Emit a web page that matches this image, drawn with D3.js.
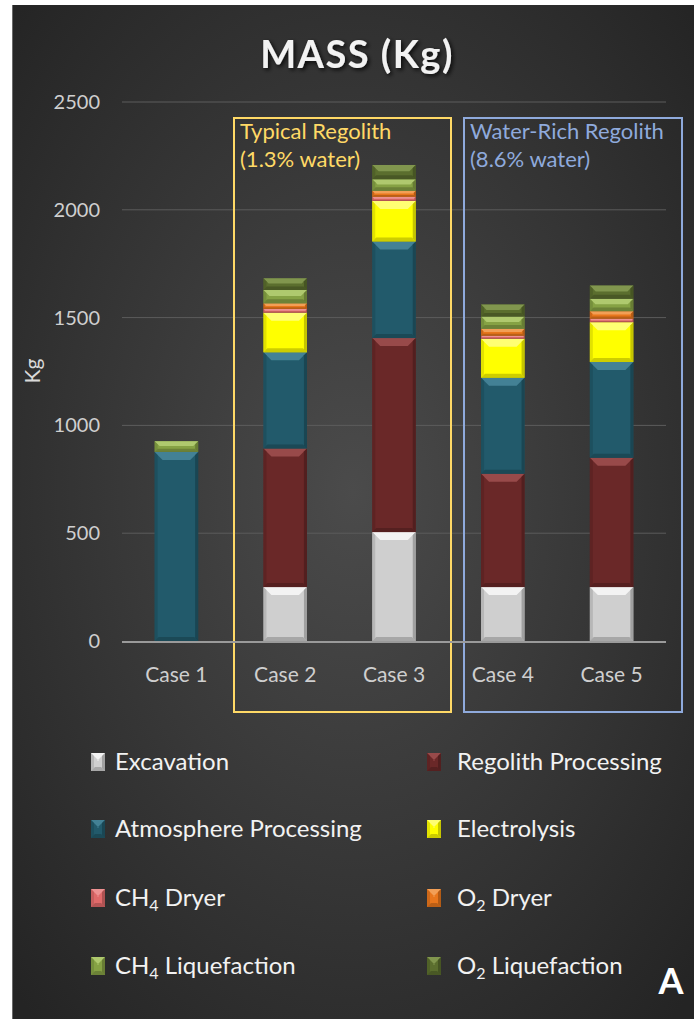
<!DOCTYPE html>
<html>
<head>
<meta charset="utf-8">
<script src="https://cdn.jsdelivr.net/npm/d3@7"></script>
<style>
  html, body { margin: 0; padding: 0; background: #ffffff; }
  svg { display: block; }
</style>
</head>
<body>
<svg id="chart" width="694" height="1019"></svg>
<script>
// ---- data (kg) ----
const cases = ["Case 1", "Case 2", "Case 3", "Case 4", "Case 5"];
const excavation   = [0, 250, 505, 250, 250];
const regolithProc = [0, 643, 900, 526, 600];
const atmosphereProc = [877, 446, 448, 445, 444];
const electrolysis = [0, 184, 188, 181, 185];
const ch4Dryer     = [0, 17, 19, 14, 16];
const o2Dryer      = [0, 26, 28, 32, 35];
const ch4Liq       = [50, 62, 54, 57, 58];
const o2Liq        = [0, 54, 66, 56, 61];
const yTicks = [0, 500, 1000, 1500, 2000, 2500];

const seriesNames = ["Excavation", "Regolith Processing", "Atmosphere Processing",
  "Electrolysis", "CH4 Dryer", "O2 Dryer", "CH4 Liquefaction", "O2 Liquefaction"];
const seriesValues = [excavation, regolithProc, atmosphereProc, electrolysis,
  ch4Dryer, o2Dryer, ch4Liq, o2Liq];
const seriesColors = ["#cfcfcf", "#6a2828", "#225a6b", "#ffff00",
  "#e06a6a", "#e8761c", "#86a244", "#5b6e2e"];
const highlightColors = ["#ffffff", "#a85656", "#4f8fa3", "#ffff9a",
  "#f2a0a0", "#f6ad6a", "#bcd57c", "#8ea45a"];

// ---- layout ----
const svg = d3.select("#chart");
const W = 694, H = 1019;
const font = "Lato, 'Open Sans', sans-serif";

const defs = svg.append("defs");
const bg = defs.append("radialGradient").attr("id", "bg")
  .attr("cx", "50%").attr("cy", "48%").attr("r", "70%");
bg.append("stop").attr("offset", "0%").attr("stop-color", "#4b4b4b");
bg.append("stop").attr("offset", "100%").attr("stop-color", "#242424");

const shadow = defs.append("filter").attr("id", "shadow")
  .attr("x", "-10%").attr("y", "-10%").attr("width", "130%").attr("height", "140%");
shadow.append("feDropShadow").attr("dx", 2).attr("dy", 2).attr("stdDeviation", 2)
  .attr("flood-color", "#000").attr("flood-opacity", 0.8);

svg.append("rect").attr("x", 12).attr("y", 5).attr("width", W - 12).attr("height", H - 5)
  .attr("fill", "url(#bg)");
svg.append("line").attr("x1", 12.5).attr("x2", 12.5).attr("y1", 5).attr("y2", H)
  .attr("stroke", "#6a6a6a").attr("stroke-width", 1);

const plotLeft = 122, plotRight = 666, plotTop = 102, plotBottom = 641;

const x = d3.scaleBand().domain(cases).range([plotLeft, plotRight])
  .paddingInner(0.6).paddingOuter(0.3);
const y = d3.scaleLinear().domain([0, 2500]).range([plotBottom, plotTop]);

// title
svg.append("text").attr("x", 357).attr("y", 68).attr("text-anchor", "middle")
  .attr("font-family", font).attr("font-weight", "bold").attr("font-size", 38)
  .attr("fill", "#f2f2f2").attr("filter", "url(#shadow)")
  .attr("letter-spacing", 1.5).text("MASS (Kg)");

// gridlines
svg.append("g").selectAll("line").data(yTicks.filter(d => d > 0)).join("line")
  .attr("x1", plotLeft).attr("x2", plotRight)
  .attr("y1", d => y(d)).attr("y2", d => y(d))
  .attr("stroke", "#5c5c5c").attr("stroke-width", 1);

// y axis labels
const yAxis = svg.append("g").attr("transform", `translate(${plotLeft - 22},0)`)
  .call(d3.axisLeft(y).tickValues(yTicks).tickFormat(d3.format("d")).tickSize(0).tickPadding(0));
yAxis.select(".domain").remove();
yAxis.selectAll("text").attr("font-family", font).attr("font-size", 20)
  .attr("fill", "#cfcfcf");

svg.append("text").attr("transform", "translate(40,371) rotate(-90)")
  .attr("text-anchor", "middle").attr("font-family", font).attr("font-size", 21)
  .attr("fill", "#d9d9d9").text("Kg");

// annotation boxes (regolith groups)
const bw = x.bandwidth();
const boxTop = 118, boxBottom = 712;
const boxes = [
  { left: 234, right: 451, color: "#ffd966", lines: ["Typical Regolith", "(1.3% water)"] },
  { left: 464, right: 682, color: "#8faadc", lines: ["Water-Rich Regolith", "(8.6% water)"] }
];
boxes.forEach(b => {
  svg.append("rect").attr("x", b.left).attr("y", boxTop)
    .attr("width", b.right - b.left).attr("height", boxBottom - boxTop)
    .attr("fill", "none").attr("stroke", b.color).attr("stroke-width", 2);
  b.lines.forEach((t, i) => {
    svg.append("text").attr("x", b.left + 6).attr("y", boxTop + 21 + i * 28)
      .attr("font-family", font).attr("font-size", 22).attr("fill", b.color).text(t);
  });
});

// bevelled block used for bar segments and legend keys
function bevel(g, bx, by, w, h, color, hi) {
  if (h <= 0) return;
  const dark = d3.color(color).darker(0.6).formatHex();
  const darker = d3.color(color).darker(1.1).formatHex();
  const grp = g.append("g");
  grp.append("rect").attr("x", bx).attr("y", by).attr("width", w).attr("height", h)
    .attr("fill", color);
  const bt = Math.min(8, h * 0.45);
  const bs = Math.min(3, h * 0.3);
  const bb = Math.min(4, h * 0.3);
  // top highlight
  grp.append("polygon")
    .attr("points", [[bx, by], [bx + w, by], [bx + w - bt, by + bt], [bx + bt, by + bt]].join(" "))
    .attr("fill", hi).attr("opacity", 0.75);
  // left edge
  grp.append("polygon")
    .attr("points", [[bx, by], [bx + bs, by + bs], [bx + bs, by + h - bs], [bx, by + h]].join(" "))
    .attr("fill", dark).attr("opacity", 0.6);
  // right edge
  grp.append("polygon")
    .attr("points", [[bx + w, by], [bx + w - bs, by + bs], [bx + w - bs, by + h - bs], [bx + w, by + h]].join(" "))
    .attr("fill", darker).attr("opacity", 0.7);
  // bottom edge
  grp.append("polygon")
    .attr("points", [[bx, by + h], [bx + w, by + h], [bx + w - bb, by + h - bb], [bx + bb, by + h - bb]].join(" "))
    .attr("fill", darker).attr("opacity", 0.6);
}

// stacked bars
const rows = cases.map((c, i) => {
  const r = { case: c };
  seriesNames.forEach((s, k) => r[s] = seriesValues[k][i]);
  return r;
});
const stack = d3.stack().keys(seriesNames)(rows);
const barsG = svg.append("g");
stack.forEach((layer, k) => {
  layer.forEach(seg => {
    const v = seg[1] - seg[0];
    if (v <= 0) return;
    const y0 = y(seg[0]), y1 = y(seg[1]);
    bevel(barsG, x(seg.data.case), y1, bw, y0 - y1, seriesColors[k], highlightColors[k]);
  });
});

// baseline
svg.append("line").attr("x1", plotLeft).attr("x2", plotRight)
  .attr("y1", y(0) + 1).attr("y2", y(0) + 1)
  .attr("stroke", "#9a9a9a").attr("stroke-width", 2);

// x axis labels
const xAxis = svg.append("g").attr("transform", `translate(0,${plotBottom + 16})`)
  .call(d3.axisBottom(x).tickSize(0).tickPadding(6));
xAxis.select(".domain").remove();
xAxis.selectAll("text").attr("font-family", font).attr("font-size", 21)
  .attr("fill", "#cfcfcf").attr("dy", "0.9em");

// legend
const legendLabels = [
  [{ t: "Excavation" }],
  [{ t: "Regolith Processing" }],
  [{ t: "Atmosphere Processing" }],
  [{ t: "Electrolysis" }],
  [{ t: "CH" }, { t: "4", sub: true }, { t: " Dryer" }],
  [{ t: "O" }, { t: "2", sub: true }, { t: " Dryer" }],
  [{ t: "CH" }, { t: "4", sub: true }, { t: " Liquefaction" }],
  [{ t: "O" }, { t: "2", sub: true }, { t: " Liquefaction" }]
];
const legendRowsY = [762, 829, 898, 966];
const legendCols = [{ mx: 91, tx: 115 }, { mx: 427, tx: 457 }];
const legendG = svg.append("g");
legendLabels.forEach((parts, k) => {
  const col = legendCols[k % 2];
  const ry = legendRowsY[Math.floor(k / 2)];
  bevel(legendG, col.mx, ry - 9, 14, 18, seriesColors[k], highlightColors[k]);
  const tx = legendG.append("text").attr("x", col.tx).attr("y", ry + 8)
    .attr("font-family", font).attr("font-size", 24).attr("fill", "#f2f2f2");
  parts.forEach(p => {
    const ts = tx.append("tspan").text(p.t);
    if (p.sub) ts.attr("font-size", 16).attr("dy", 5);
    else if (p.t.startsWith(" ")) ts.attr("dy", -5);
  });
});

// panel letter
svg.append("text").attr("x", 671).attr("y", 994).attr("text-anchor", "middle")
  .attr("font-family", font).attr("font-weight", "bold").attr("font-size", 36)
  .attr("fill", "#ffffff").text("A");
</script>
</body>
</html>
